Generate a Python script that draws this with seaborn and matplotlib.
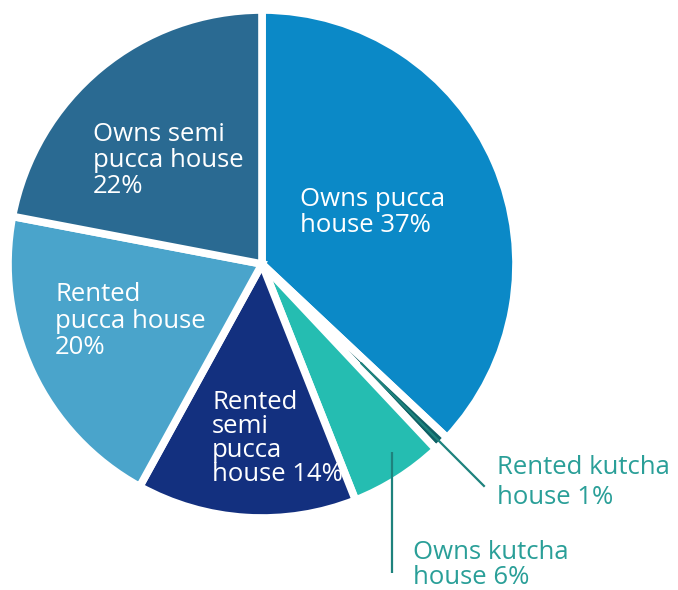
import numpy as np
import matplotlib
matplotlib.use("Agg")
import matplotlib.pyplot as plt
import seaborn as sns

# Housing tenure shares, clockwise from 12 o'clock
categories = [
    "Owns pucca house",
    "Rented kutcha house",
    "Owns kutcha house",
    "Rented semi pucca house",
    "Rented pucca house",
    "Owns semi pucca house",
]
shares = [37, 1, 6, 14, 20, 22]
label_texts = [
    "Owns pucca\nhouse {}%",
    "Rented kutcha\nhouse {}%",
    "Owns kutcha\nhouse {}%",
    "Rented\nsemi\npucca\nhouse {}%",
    "Rented\npucca house\n{}%",
    "Owns semi\npucca house\n{}%",
]
colors = ["#0b89c7", "#0f6166", "#25bdb1", "#13307f", "#4aa4cb", "#2a6a92"]

sns.set_theme(style="white")
plt.rcParams["font.family"] = ["Open Sans", "DejaVu Sans"]

W, H = 678, 590
fig = plt.figure(figsize=(W / 100, H / 100), dpi=100)
ax = fig.add_axes([0, 0, 1, 1])

# pixel frame: pie centre and scale
cx, cy, scale = 262.0, 264.0, 254.0

wedges, _ = ax.pie(
    shares,
    colors=colors,
    startangle=90,
    counterclock=False,
    radius=1.0,
    center=(0, 0),
    wedgeprops=dict(edgecolor="white", linewidth=5.5),
    frame=True,
)
ax.set_xlim(-cx / scale, (W - cx) / scale)
ax.set_ylim(-(H - cy) / scale, cy / scale)
ax.set_aspect("equal")
ax.axis("off")


def px(x, y):
    return (x - cx) / scale, (cy - y) / scale


FS = 18.5
k = 17.5 / FS
# label layout: last-line baseline (pixels), colour, line spacing
layout = [
    dict(pos=(300, 232), color="white", ls=1.12 * k),
    dict(pos=(497, 504), color="#2a9f98", ls=1.33 * k),
    dict(pos=(413, 584), color="#2a9f98", ls=1.06 * k),
    dict(pos=(212, 481), color="white", ls=1.0 * k),
    dict(pos=(55, 354), color="white", ls=1.14 * k),
    dict(pos=(93, 193), color="white", ls=1.12 * k),
]
for txt, share, lay in zip(label_texts, shares, layout):
    x, y = px(*lay["pos"])
    ax.text(x, y, txt.format(share), ha="left", va="baseline",
            color=lay["color"], fontsize=FS,
            linespacing=lay["ls"])

# leader lines for the two small outer slices
lead = "#1e827d"
w_rk = wedges[1]
mid = np.deg2rad((w_rk.theta1 + w_rk.theta2) / 2)
r0, r1 = 0.55, 1.24
ax.plot([r0 * np.cos(mid), r1 * np.cos(mid)],
        [r0 * np.sin(mid), r1 * np.sin(mid)],
        color=lead, lw=1.6, solid_capstyle="butt")

w_ok = wedges[2]
ang = np.deg2rad(w_ok.theta1 + 0.6 * (w_ok.theta2 - w_ok.theta1))
sx, sy = 0.9 * np.cos(ang), 0.9 * np.sin(ang)
_, ey = px(0, 573)
ax.plot([sx, sx], [sy, ey], color=lead, lw=1.6, solid_capstyle="butt")

fig.savefig("out.png", dpi=100, facecolor="white")
